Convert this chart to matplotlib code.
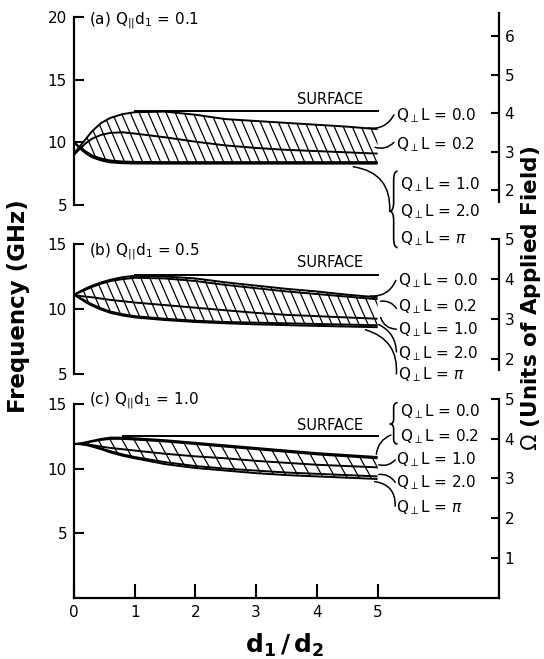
import numpy as np
import matplotlib.pyplot as plt
from matplotlib.patches import Polygon, PathPatch
from matplotlib.path import Path
from matplotlib.collections import LineCollection

plt.rcParams['font.family'] = ['DejaVu Sans']
plt.rcParams['mathtext.fontset'] = 'dejavusans'

# d1/d2 values at which each branch is sampled
ratio = [0, 0.1, 0.2, 0.3, 0.45, 0.6, 0.8, 1.0, 1.5, 2.0, 2.5, 3.0, 3.5, 4.0, 4.5, 5.0]

# Q_perp L of the bulk branches, top to bottom
qperp = ['0.0', '0.2', '1.0', '2.0', r'$\pi$']

# (a) Q|| d1 = 0.1, frequency in GHz
a_q00 = [9.1, 9.7, 10.3, 10.9, 11.55, 11.95, 12.25, 12.4, 12.45, 12.2, 11.85, 11.7, 11.55, 11.4, 11.25, 11.05]
a_q02 = [9.0, 9.5, 9.95, 10.3, 10.6, 10.75, 10.8, 10.7, 10.4, 10.05, 9.75, 9.55, 9.4, 9.3, 9.2, 9.1]
a_q10 = [10.0, 9.6, 9.25, 8.95, 8.7, 8.55, 8.47, 8.44, 8.42, 8.42, 8.42, 8.42, 8.42, 8.42, 8.42, 8.42]
a_q20 = [10.0, 9.55, 9.15, 8.85, 8.6, 8.45, 8.39, 8.37, 8.36, 8.36, 8.36, 8.36, 8.36, 8.36, 8.36, 8.36]
a_qpi = [10.0, 9.5, 9.1, 8.8, 8.55, 8.4, 8.33, 8.31, 8.3, 8.3, 8.3, 8.3, 8.3, 8.3, 8.3, 8.3]
a_surf_x = [1.0, 5.0]
a_surf_f = [12.5, 12.5]

# (b) Q|| d1 = 0.5
b_q00 = [11.1, 11.35, 11.6, 11.8, 12.05, 12.25, 12.45, 12.55, 12.5, 12.35, 12.05, 11.8, 11.55, 11.35, 11.1, 10.9]
b_q02 = [11.1, 11.3, 11.5, 11.7, 11.95, 12.15, 12.3, 12.4, 12.35, 12.15, 11.85, 11.6, 11.35, 11.15, 10.95, 10.75]
b_q10 = [11.1, 11.0, 10.95, 10.9, 10.8, 10.7, 10.6, 10.5, 10.3, 10.1, 9.9, 9.7, 9.55, 9.45, 9.35, 9.25]
b_q20 = [11.1, 10.85, 10.6, 10.35, 10.05, 9.8, 9.6, 9.45, 9.25, 9.1, 9.0, 8.95, 8.9, 8.85, 8.8, 8.75]
b_qpi = [11.1, 10.8, 10.5, 10.25, 9.95, 9.7, 9.5, 9.35, 9.15, 9.0, 8.9, 8.82, 8.76, 8.7, 8.65, 8.6]
b_surf_x = [1.0, 5.0]
b_surf_f = [12.6, 12.6]

# (c) Q|| d1 = 1.0
c_q00 = [11.9, 11.95, 12.05, 12.15, 12.3, 12.4, 12.4, 12.35, 12.2, 12.0, 11.8, 11.6, 11.4, 11.2, 11.05, 10.9]
c_q02 = [11.9, 11.93, 12.0, 12.1, 12.22, 12.3, 12.3, 12.25, 12.1, 11.9, 11.7, 11.5, 11.3, 11.1, 10.95, 10.8]
c_q10 = [11.9, 11.9, 11.88, 11.82, 11.7, 11.6, 11.5, 11.4, 11.15, 10.95, 10.8, 10.6, 10.45, 10.3, 10.2, 10.1]
c_q20 = [11.9, 11.9, 11.85, 11.75, 11.55, 11.35, 11.1, 10.9, 10.5, 10.2, 10.0, 9.85, 9.7, 9.6, 9.5, 9.4]
c_qpi = [11.9, 11.9, 11.83, 11.7, 11.5, 11.25, 11.0, 10.8, 10.35, 10.05, 9.85, 9.65, 9.5, 9.4, 9.3, 9.2]
c_surf_x = [0.8, 5.0]
c_surf_f = [12.5, 12.5]

# one unit of applied field expressed in GHz
GHZ_PER_OMEGA = 3.08

W, H = 544.0, 659.0
X0, X1, XMAX = 74.0, 499.0, 7.0

fig = plt.figure(figsize=(W / 100, H / 100), dpi=100)


def brace(ax, x, f_lo, f_hi, f_mid, width=0.13):
    # curly brace opening to the right, cusp pointing left at f_mid
    a = x + width / 2
    r = x + width
    q = 0.12 * (f_hi - f_lo)
    verts = [(r, f_hi), (a, f_hi), (a, f_hi - q), (a, f_mid + q),
             (a, f_mid), (x, f_mid), (a, f_mid), (a, f_mid - q),
             (a, f_lo + q), (a, f_lo), (r, f_lo)]
    codes = [Path.MOVETO, Path.CURVE3, Path.CURVE3, Path.LINETO,
             Path.CURVE3, Path.CURVE3, Path.CURVE3, Path.CURVE3,
             Path.LINETO, Path.CURVE3, Path.CURVE3]
    ax.add_patch(PathPatch(Path(verts, codes), fc='none', ec='k', lw=1.2, clip_on=False))


def leader(ax, start, end, rad):
    ax.annotate('', xy=start, xytext=end, annotation_clip=False,
                arrowprops=dict(arrowstyle='-', lw=1.1, color='k', shrinkA=0, shrinkB=0,
                                connectionstyle='arc3,rad=%s' % rad))


def panel(top_px, bot_px, ylim, curves, surf, yticks, lspine, oticks, ospine,
          title, title_f, lab_x, lab_f, surf_f, hatch_px):
    ax = fig.add_axes([X0 / W, 1 - bot_px / H, (X1 - X0) / W, (bot_px - top_px) / H])
    ax.patch.set_visible(False)
    ax.set_xlim(0, XMAX)
    ax.set_ylim(*ylim)
    for s in ['top', 'right']:
        ax.spines[s].set_visible(False)
    ax.spines['left'].set_bounds(*lspine)
    ax.spines['left'].set_linewidth(1.6)
    ax.set_yticks(yticks)
    ax.tick_params(axis='y', direction='in', length=7, width=1.5, pad=5, labelsize=11)

    ax2 = ax.twinx()
    ax2.patch.set_visible(False)
    ax2.set_ylim(ylim[0] / GHZ_PER_OMEGA, ylim[1] / GHZ_PER_OMEGA)
    for s in ['top', 'left', 'bottom']:
        ax2.spines[s].set_visible(False)
    ax2.spines['right'].set_bounds(*ospine)
    ax2.spines['right'].set_linewidth(1.6)
    ax2.set_yticks(oticks)
    ax2.tick_params(axis='y', direction='in', length=6, width=1.5, pad=4, labelsize=11)

    # bulk branches
    for f in curves:
        ax.plot(ratio, f, color='k', lw=1.4, clip_on=False, solid_capstyle='butt')
    ax.plot(surf[0], surf[1], color='k', lw=1.4)
    ax.text(4.22, surf_f, 'SURFACE', ha='center', va='center', fontsize=10.5)

    # hatching between the Q_perp L = 0 and Q_perp L = pi branches
    top, bot = curves[0], curves[-1]
    verts = list(zip(ratio, top)) + list(zip(ratio[::-1], bot[::-1]))
    region = Polygon(verts, closed=True, fc='none', ec='none')
    ax.add_patch(region)
    px_x = (X1 - X0) / XMAX
    px_f = (bot_px - top_px) / (ylim[1] - ylim[0])
    spacing, steep = hatch_px
    run = px_f / (steep * px_x)
    segs = []
    for c in np.arange(-4, 6, spacing / px_x):
        segs.append([(c, 21.0), (c + 21.0 * run, 0.0)])
    lc = LineCollection(segs, colors='k', linewidths=0.9)
    ax.add_collection(lc)
    lc.set_clip_path(region)

    ax.text(0.25, title_f, title, ha='left', va='center', fontsize=11)

    for x, f, q in zip(lab_x, lab_f, qperp):
        ax.text(x, f, r'Q$_{\perp}$L = ' + q, ha='left', va='center', fontsize=11, clip_on=False)
    return ax


# (a)
ax_a = panel(10.7, 205.0, (5, 20.5), [a_q00, a_q02, a_q10, a_q20, a_qpi], (a_surf_x, a_surf_f),
             [5, 10, 15, 20], (5, 20), [2, 3, 4, 5, 6], (1.7, 6.6),
             r'(a) Q$_{||}$d$_1$ = 0.1', 19.7,
             [5.3, 5.3, 5.37, 5.37, 5.37], [12.1, 9.85, 6.6, 4.5, 2.35], 13.45, (9, 2.3))
ax_a.spines['bottom'].set_visible(False)
ax_a.tick_params(axis='x', bottom=False, labelbottom=False)
brace(ax_a, 5.2, 1.6, 7.7, 4.5)
leader(ax_a, (4.84, 11.15), (5.27, 12.2), -0.35)
leader(ax_a, (4.96, 9.6), (5.27, 10.0), -0.3)
leader(ax_a, (4.6, 8.05), (5.2, 4.5), 0.45)

# (b)
ax_b = panel(237.5, 374.0, (5, 15.5), [b_q00, b_q02, b_q10, b_q20, b_qpi], (b_surf_x, b_surf_f),
             [5, 10, 15], (5, 15), [2, 3, 4, 5], (1.72, 5),
             r'(b) Q$_{||}$d$_1$ = 0.5', 14.4,
             [5.34] * 5, [12.15, 10.15, 8.38, 6.6, 4.92], 13.55, (9, 2.3))
ax_b.spines['bottom'].set_visible(False)
ax_b.tick_params(axis='x', bottom=False, labelbottom=False)
leader(ax_b, (4.88, 11.0), (5.3, 12.2), -0.35)
leader(ax_b, (5.05, 10.6), (5.31, 10.05), 0.3)
leader(ax_b, (5.05, 9.35), (5.31, 8.45), -0.35)
leader(ax_b, (5.02, 8.8), (5.31, 6.7), 0.3)
leader(ax_b, (4.8, 8.4), (5.31, 5.0), 0.4)

# (c)
ax_c = panel(397.5, 598.0, (0, 15.5), [c_q00, c_q02, c_q10, c_q20, c_qpi], (c_surf_x, c_surf_f),
             [5, 10, 15], (0, 15), [1, 2, 3, 4, 5], (0, 5),
             r'(c) Q$_{||}$d$_1$ = 1.0', 15.3,
             [5.37, 5.37, 5.3, 5.3, 5.3], [14.4, 12.5, 10.68, 8.94, 6.97], 13.3, (12, 1.8))
ax_c.spines['bottom'].set_linewidth(1.6)
ax_c.set_xticks([0, 1, 2, 3, 4, 5])
ax_c.set_xticklabels(['0', '1', '2', '3', '4', '5'])
ax_c.tick_params(axis='x', direction='in', length=10, width=1.5, pad=5, labelsize=11)
brace(ax_c, 5.2, 11.9, 15.1, 13.45)
leader(ax_c, (4.98, 11.1), (5.22, 12.6), 0.3)
leader(ax_c, (5.02, 10.3), (5.29, 10.68), -0.3)
leader(ax_c, (5.02, 9.55), (5.29, 8.94), 0.3)
leader(ax_c, (4.95, 9.0), (5.29, 7.1), 0.45)

fig.text(19 / W, 1 - 306 / H, 'Frequency (GHz)', rotation=90, ha='center', va='center',
         fontsize=16.5, fontweight='bold')
fig.text(531 / W, 1 - 298 / H, r'$\Omega$ (Units of Applied Field)', rotation=90,
         ha='center', va='center', fontsize=15.5, fontweight='bold')
fig.text(285 / W, 1 - 645 / H, r'$\mathbf{d_1\,/\,d_2}$', ha='center', va='center', fontsize=18)

fig.savefig('out.png', dpi=100)
